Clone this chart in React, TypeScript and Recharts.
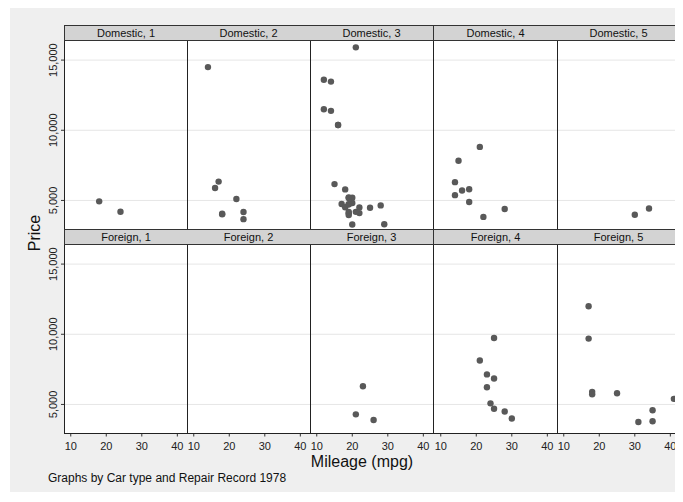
import React from 'react';
import { ScatterChart, Scatter, XAxis, YAxis, CartesianGrid } from 'recharts';

// 1978 automobile data: mileage, price, repair record, origin
const mpg = [
  22, 17, 22, 20, 15, 18, 26, 20, 16, 19, 14, 14, 21, 29, 16, 22, 22, 24, 19, 30,
  18, 16, 17, 28, 21, 12, 12, 14, 22, 14, 15, 18, 14, 20, 21, 19, 19, 18, 19, 24,
  16, 28, 34, 25, 26, 18, 18, 18, 19, 19, 19, 24,
  17, 23, 25, 23, 35, 24, 21, 21, 25, 28, 30, 14, 26, 35, 18, 31, 18, 23, 41, 25, 25, 17,
];
const price = [
  4099, 4749, 3799, 4816, 7827, 5788, 4453, 5189, 10372, 4082, 11385, 14500, 15906, 3299, 5705, 4504, 5104, 3667, 3955, 3984,
  4010, 5886, 6342, 4389, 4187, 11497, 13594, 13466, 3829, 5379, 6165, 4516, 6303, 3291, 8814, 5172, 4733, 4890, 4181, 4195,
  10371, 4647, 4425, 4482, 6486, 4060, 5798, 4934, 5222, 4723, 4424, 4172,
  9690, 6295, 9735, 6229, 4589, 5079, 8129, 4296, 5799, 4499, 3995, 12990, 3895, 3798, 5899, 3748, 5719, 7140, 5397, 4697, 6850, 11995,
];
const rep78 = [
  3, 3, null, 3, 4, 3, null, 3, 3, 3, 3, 2, 3, 3, 4, 3, 2, 2, 3, 5,
  2, 2, 2, 4, 3, 3, 3, 3, 4, 4, 3, 3, 4, 3, 4, 3, 3, 4, 3, 1,
  3, 3, 5, 3, null, 2, 4, 1, 3, 3, null, 2,
  5, 3, 4, 4, 5, 4, 4, 3, 5, 4, 4, null, 3, 5, 5, 5, 5, 4, 5, 4, 4, 5,
];
const foreign = [...Array(52).fill(0), ...Array(22).fill(1)];

const carTypes = ['Domestic', 'Foreign'];
const repairLevels = [1, 2, 3, 4, 5];
const xTicks = [10, 20, 30, 40];
const yTicks = [5000, 10000, 15000];

const FONT = '"Liberation Sans", Arial, Helvetica, sans-serif';
const colX = [56, 179, 302, 426, 549];
const colW = 124;
const headTop = [17, 221];
const headH = 16;
const plotTop = [33, 237];
const plotH = 188.5;
const yAxisW = 30;
const xAxisH = 22;

const YTick = (props: any) => {
  const { x, y, payload } = props;
  const tx = x - 2;
  return (
    <text
      x={tx}
      y={y}
      transform={`rotate(-90, ${tx}, ${y})`}
      textAnchor="middle"
      fontSize={11}
      fontFamily={FONT}
      fill="#222"
    >
      {payload.value.toLocaleString('en-US')}
    </text>
  );
};

const XTick = (props: any) => {
  const { x, y, payload } = props;
  return (
    <text x={x} y={y + 11} textAnchor="middle" fontSize={11} fontFamily={FONT} fill="#222">
      {payload.value}
    </text>
  );
};

const Dot = (props: any) => <circle cx={props.cx} cy={props.cy} r={3.2} fill="#595959" />;

function Panel({ row, col }: { row: number; col: number }) {
  const data = mpg
    .map((m, i) => ({ mpg: m, price: price[i], rep: rep78[i], f: foreign[i] }))
    .filter((d) => d.f === row && d.rep === repairLevels[col]);
  const left = col === 0;
  const bottom = row === 1;
  const w = colW + (left ? yAxisW : 0);
  const h = plotH + (bottom ? xAxisH : 0);
  return (
    <div
      style={{
        position: 'absolute',
        left: colX[col] - (left ? yAxisW : 0),
        top: plotTop[row],
        width: w,
        height: h,
      }}
    >
      <ScatterChart width={w} height={h} margin={{ top: 0, right: 0, bottom: 0, left: 0 }}>
        <CartesianGrid
          vertical={false}
          stroke="#e6e6e6"
          fill="#fff"
          horizontalValues={yTicks}
        />
        <XAxis
          type="number"
          dataKey="mpg"
          domain={[8.1, 43]}
          ticks={xTicks}
          interval={0}
          hide={!bottom}
          height={xAxisH}
          axisLine={false}
          tickSize={3}
          tickLine={{ stroke: '#333' }}
          tick={<XTick />}
          allowDataOverflow
        />
        <YAxis
          type="number"
          dataKey="price"
          domain={[2930, 16360]}
          ticks={yTicks}
          interval={0}
          hide={!left}
          width={yAxisW}
          axisLine={false}
          tickSize={3}
          tickLine={{ stroke: '#333' }}
          tick={<YTick />}
          allowDataOverflow
        />
        <Scatter data={data} shape={<Dot />} isAnimationActive={false} />
      </ScatterChart>
    </div>
  );
}

export default function App() {
  return (
    <div style={{ position: 'relative', width: 675, height: 494, fontFamily: FONT }}>
      <div
        style={{ position: 'absolute', left: 2, top: 0, width: 673, height: 484, background: '#efefef' }}
      />
      {carTypes.map((_, row) =>
        repairLevels.map((_, col) => <Panel key={`${row}-${col}`} row={row} col={col} />)
      )}
      {carTypes.map((t, row) =>
        repairLevels.map((r, col) => (
          <React.Fragment key={`f-${row}-${col}`}>
            <div
              style={{
                position: 'absolute',
                left: colX[col],
                top: headTop[row],
                width: colW - (col === 0 ? 0 : 0),
                height: headH,
                boxSizing: 'border-box',
                background: '#d3d3d3',
                borderTop: '1px solid #333',
                borderBottom: '1px solid #333',
                borderRight: '1px solid #333',
                borderLeft: col === 0 ? '1px solid #333' : 'none',
                fontSize: 11,
                lineHeight: `${headH - 2}px`,
                textAlign: 'center',
                color: '#111',
              }}
            >
              {`${t}, ${r}`}
            </div>
            <div
              style={{
                position: 'absolute',
                left: colX[col],
                top: plotTop[row],
                width: colW,
                height: plotH,
                boxSizing: 'border-box',
                borderRight: '1px solid #222',
                borderBottom: '1px solid #222',
                borderLeft: col === 0 ? '1px solid #222' : 'none',
              }}
            />
          </React.Fragment>
        ))
      )}
      <div
        style={{
          position: 'absolute',
          left: 27,
          top: 225,
          transform: 'translate(-50%, -50%) rotate(-90deg)',
          fontSize: 16,
          color: '#111',
          whiteSpace: 'nowrap',
        }}
      >
        Price
      </div>
      <div
        style={{
          position: 'absolute',
          left: 354,
          top: 445,
          transform: 'translateX(-50%)',
          fontSize: 16,
          color: '#111',
          whiteSpace: 'nowrap',
          lineHeight: '18px',
        }}
      >
        Mileage (mpg)
      </div>
      <div
        style={{
          position: 'absolute',
          left: 40,
          top: 463,
          fontSize: 12,
          color: '#111',
          whiteSpace: 'nowrap',
          lineHeight: '14px',
        }}
      >
        Graphs by Car type and Repair Record 1978
      </div>
    </div>
  );
}
